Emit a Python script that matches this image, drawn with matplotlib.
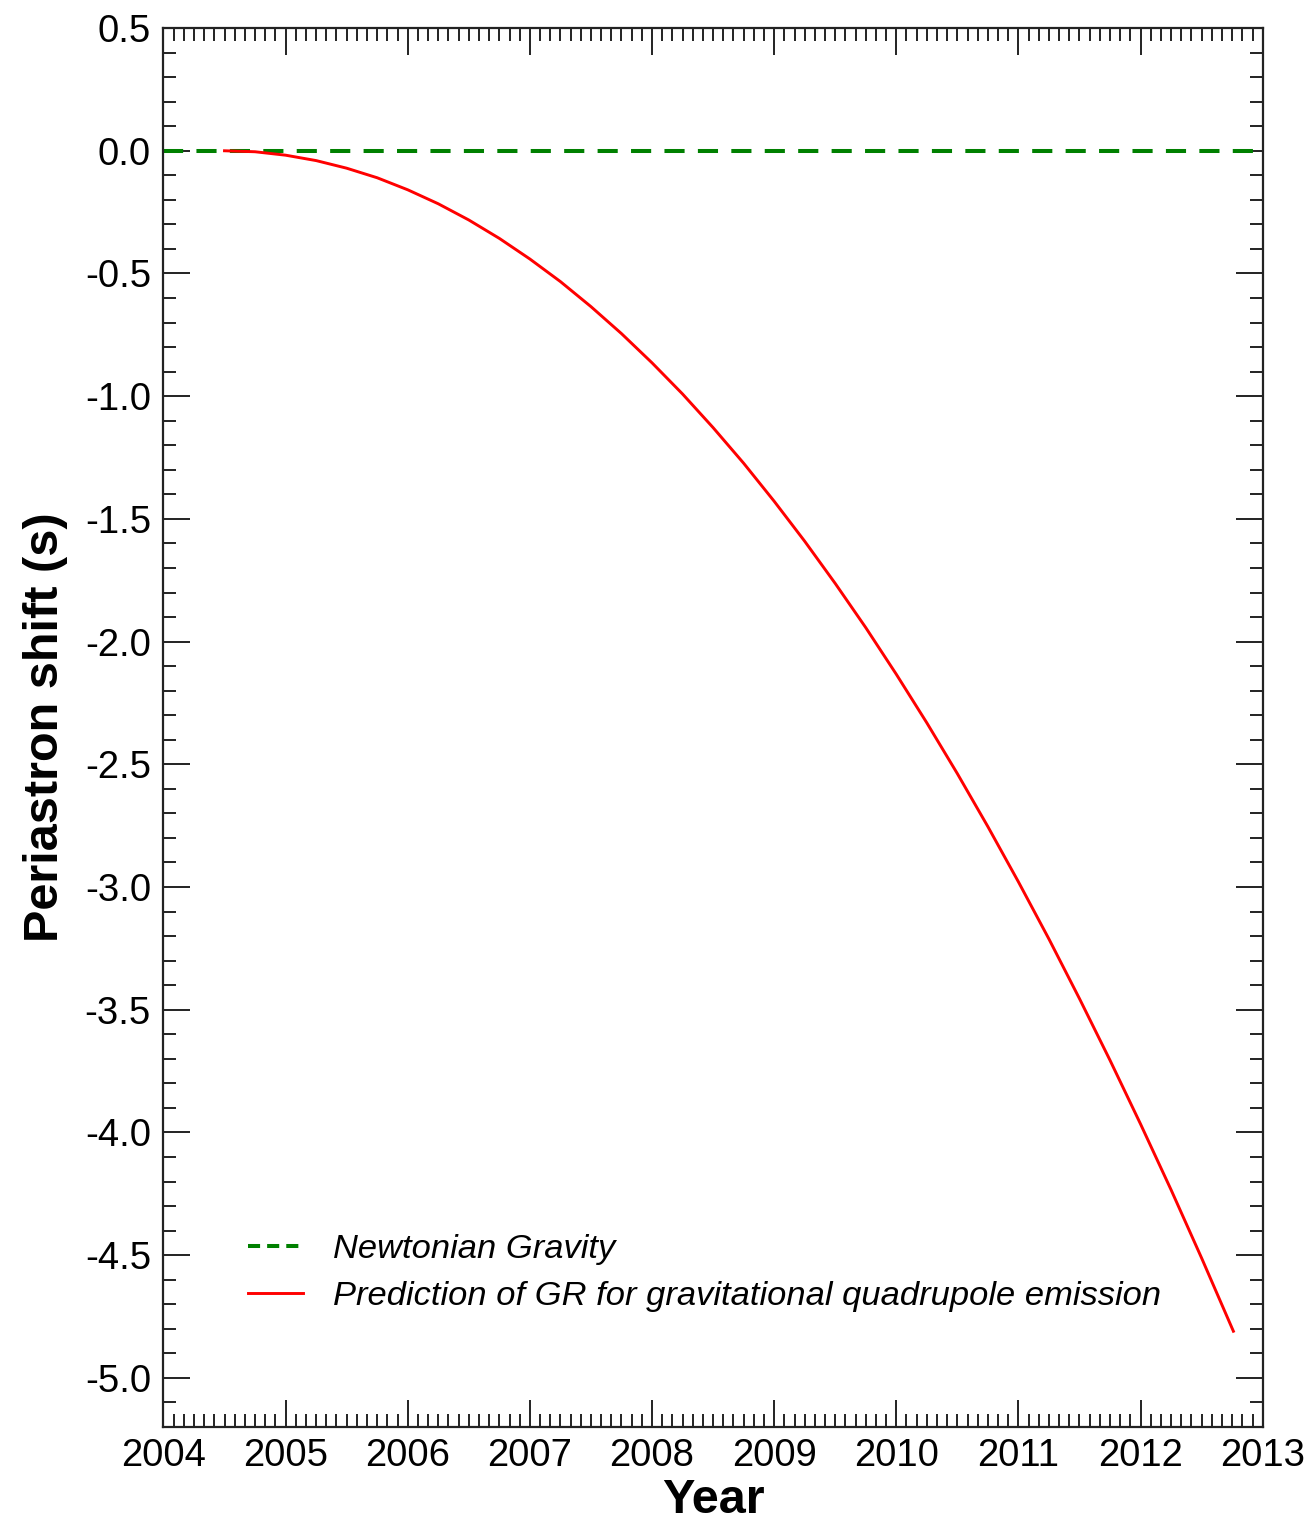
import numpy as np
import matplotlib
matplotlib.use('Agg')
import matplotlib.pyplot as plt
from matplotlib.ticker import MultipleLocator, FormatStrFormatter
from matplotlib.lines import Line2D

plt.rcParams['font.family'] = ['Liberation Sans', 'DejaVu Sans']
plt.rcParams['axes.unicode_minus'] = False

# cumulative periastron shift (s), every quarter year
years = [2004.50, 2004.75, 2005.00, 2005.25, 2005.50, 2005.75, 2006.00, 2006.25,
         2006.50, 2006.75, 2007.00, 2007.25, 2007.50, 2007.75, 2008.00, 2008.25,
         2008.50, 2008.75, 2009.00, 2009.25, 2009.50, 2009.75, 2010.00, 2010.25,
         2010.50, 2010.75, 2011.00, 2011.25, 2011.50, 2011.75, 2012.00, 2012.25,
         2012.50, 2012.76]
shift_gr = [0.0, -0.004, -0.018, -0.040, -0.071, -0.110, -0.159, -0.216,
            -0.282, -0.357, -0.441, -0.533, -0.635, -0.745, -0.864, -0.991,
            -1.128, -1.273, -1.428, -1.591, -1.763, -1.943, -2.133, -2.331,
            -2.538, -2.754, -2.979, -3.212, -3.455, -3.706, -3.966, -4.234,
            -4.512, -4.810]
newton_years = [2004.0, 2013.0]
shift_newton = [0.0, 0.0]

fig = plt.figure(figsize=(13.16, 15.25), dpi=100)
ax = fig.add_axes([0.1242, 0.0643, 0.8353, 0.9173])

ax.plot(newton_years, shift_newton, color='green', lw=2.9, ls=(0, (5, 3.3)))
ax.plot(years, shift_gr, color='red', lw=2.1)

ax.set_xlim(2004, 2013)
ax.set_ylim(-5.2, 0.5)

ax.xaxis.set_major_locator(MultipleLocator(1))
ax.xaxis.set_minor_locator(MultipleLocator(1 / 12))
ax.yaxis.set_major_locator(MultipleLocator(0.5))
ax.yaxis.set_minor_locator(MultipleLocator(0.1))
ax.yaxis.set_major_formatter(FormatStrFormatter('%.1f'))
ax.xaxis.set_major_formatter(FormatStrFormatter('%d'))

ax.tick_params(which='both', direction='in', top=True, right=True, width=1.4, color='#222222')
ax.tick_params(which='major', length=19.5, labelsize=27.5)
ax.tick_params(which='minor', length=9.5)
ax.tick_params(axis='x', which='major', pad=8)
ax.tick_params(axis='y', which='major', pad=9)
for s in ax.spines.values():
    s.set_linewidth(1.6)
    s.set_color('#222222')

ax.set_xlabel('Year', fontsize=35, fontweight='bold', labelpad=3)
ax.set_ylabel('Periastron shift (s)', fontsize=35, fontweight='bold', labelpad=12)

handles = [Line2D([], [], color='green', lw=2.9, ls=(0, (3, 1.75))),
           Line2D([], [], color='red', lw=2.1)]
labels = ['Newtonian Gravity', 'Prediction of GR for gravitational quadrupole emission']
ax.legend(handles, labels, loc='lower left', bbox_to_anchor=(0.0615, 0.070),
          frameon=False, prop={'size': 24.8, 'style': 'italic'},
          handlelength=1.6, handletextpad=0.85, labelspacing=0.45, borderpad=0)

fig.savefig('out.png', dpi=100)
